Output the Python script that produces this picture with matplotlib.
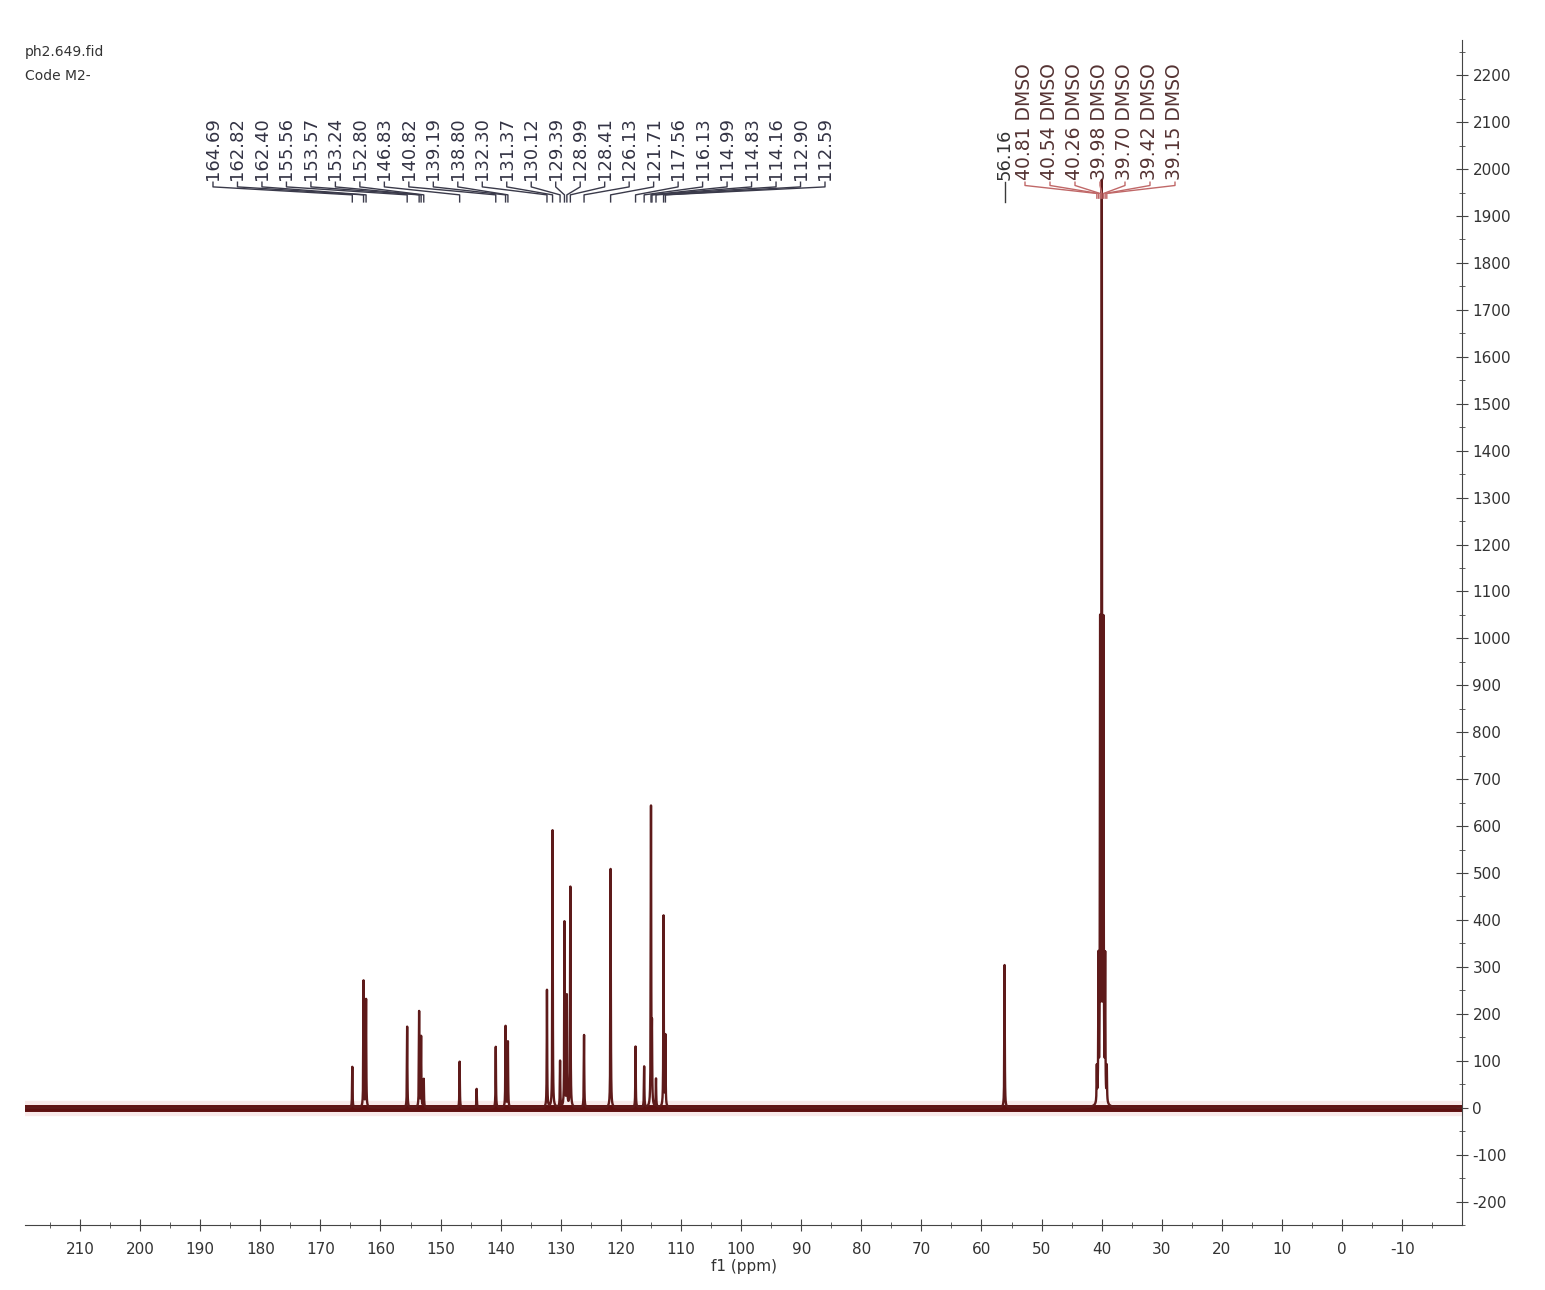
import numpy as np
import matplotlib
matplotlib.use('Agg')
import matplotlib.pyplot as plt

plt.rcParams['axes.unicode_minus'] = False

# labelled peaks (ppm, intensity)
arom_ppm = [164.69, 162.82, 162.40, 155.56, 153.57, 153.24, 152.80, 146.83,
            140.82, 139.19, 138.80, 132.30, 131.37, 130.12, 129.39, 128.99,
            128.41, 126.13, 121.71, 117.56, 116.13, 114.99, 114.83, 114.16,
            112.90, 112.59]
arom_int = [87, 270, 230, 173, 204, 150, 60, 98,
            130, 173, 140, 250, 592, 98, 394, 236,
            470, 155, 510, 130, 87, 635, 152, 60,
            407, 150]

ome_ppm = [56.16]
ome_int = [305]

dmso_ppm = [40.81, 40.54, 40.26, 39.98, 39.70, 39.42, 39.15]
dmso_int = [75, 300, 1000, 1935, 1000, 300, 75]

# small unlabelled peak
extra_ppm = [144.0]
extra_int = [40]

title_lines = ["ph2.649.fid", "Code M2-"]

# build the trace
ppm = np.linspace(-20, 219.5, 48000)
w = 0.04
all_p = arom_ppm + ome_ppm + dmso_ppm + extra_ppm
all_h = arom_int + ome_int + dmso_int + extra_int
spec = np.zeros_like(ppm)
for p, h in zip(all_p, all_h):
    spec += h / (1 + ((ppm - p) / w) ** 2)

fig = plt.figure(figsize=(15.45, 12.9), dpi=100)
ax = fig.add_axes([25/1545, 65/1290, (1462-25)/1545, (1225-40)/1290])

ax.axhline(0, lw=11, color='#f0c4c4', alpha=0.35, zorder=0)
ax.axhline(0, lw=5, color='#5e1010', zorder=1)
ax.plot(ppm, spec, color='#5e1a1a', lw=1.7, zorder=2)

ax.set_xlim(219.15, -19.95)
ax.set_ylim(-249, 2275)

for s in ['left', 'top']:
    ax.spines[s].set_visible(False)
for s in ['right', 'bottom']:
    ax.spines[s].set_color('#444444')
ax.yaxis.tick_right()
ax.set_xticks(np.arange(-10, 211, 10))
ax.set_xticks(np.arange(-15, 216, 5), minor=True)
ax.set_yticks(np.arange(-200, 2201, 100))
ax.set_yticks(np.arange(-250, 2251, 50), minor=True)
ax.tick_params(which='major', direction='inout', length=8, color='#444444',
               labelsize=11, labelcolor='#333333')
ax.tick_params(which='minor', direction='inout', length=4, color='#444444')
ax.tick_params(axis='x', pad=8)
ax.set_xlabel('f1 (ppm)', fontsize=11, color='#333333', labelpad=2)

# peak labels
px_per_ppm = 6.01
def px2ppm(xp):
    return 210 - (xp - 80) / px_per_ppm

txt_base = 1977
for i, p in enumerate(arom_ppm):
    xl = px2ppm(213 + i * 24.48)
    ax.text(xl, txt_base, f"{p:.2f}", rotation=90, ha='center', va='bottom',
            fontsize=13, color='#333344', clip_on=False)
    ax.plot([xl, xl, p, p], [txt_base - 5, 1962, 1945, 1930],
            color='#3a3a4a', lw=1.0, clip_on=False)

ax.text(56.16, txt_base, "56.16", rotation=90, ha='center', va='bottom',
        fontsize=13, color='#333333', clip_on=False)
ax.plot([56.16, 56.16], [txt_base - 5, 1930], color='#3a3a3a', lw=1.0,
        clip_on=False)

for i, p in enumerate(dmso_ppm):
    xl = px2ppm(1025 + i * 25)
    ax.text(xl, txt_base, f"{p:.2f} DMSO", rotation=90, ha='center',
            va='bottom', fontsize=13.5, color='#553333', clip_on=False)
    ax.plot([xl, xl, p, p], [txt_base - 5, 1965, 1948, 1938],
            color='#c06868', lw=1.0, clip_on=False)

fig.text(25/1545, 1 - 52/1290, title_lines[0], fontsize=10, color='#333333',
         va='center')
fig.text(25/1545, 1 - 76/1290, title_lines[1], fontsize=10, color='#333333',
         va='center')

fig.savefig('out.png', dpi=100)
